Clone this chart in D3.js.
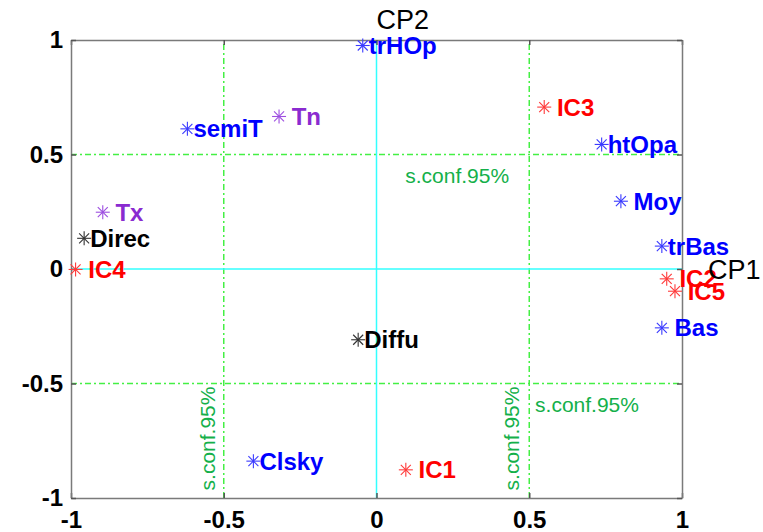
<!DOCTYPE html>
<html>
<head>
<meta charset="utf-8">
<script src="https://cdn.jsdelivr.net/npm/d3@7"></script>
<style>
  html, body { margin: 0; padding: 0; background: #fff; }
  text { font-family: "Liberation Sans", Arial, sans-serif; white-space: pre; }
</style>
</head>
<body>
<svg id="chart" width="763" height="532"></svg>
<script>
// ---- data ----
const labels = ["trHOp", "semiT", " Tn", " IC3", "htOpa", " Moy", "trBas", " IC2", " IC5", " Bas",
                " Tx", "Direc", " IC4", "Diffu", "Clsky", " IC1"];
const cp1 = [-0.045, -0.619, -0.319, 0.549, 0.737, 0.800, 0.934, 0.950, 0.977, 0.934,
             -0.896, -0.957, -0.985, -0.060, -0.403, 0.096];
const cp2 = [0.976, 0.612, 0.666, 0.707, 0.544, 0.296, 0.100, -0.043, -0.097, -0.257,
             0.248, 0.134, -0.002, -0.309, -0.839, -0.877];
const groups = ["var", "var", "temp", "ic", "var", "var", "var", "ic", "ic", "var",
                "temp", "ray", "ic", "ray", "var", "ic"];
const tickValues = [-1, -0.5, 0, 0.5, 1];
const confLevels = [-0.5, 0.5];
const confText = "s.conf.95%";
const axisNames = ["CP1", "CP2"];

(function () {
// ---- styles ----
const textColor = { var: "#0000ff", ic: "#ff0000", temp: "#8a2bd0", ray: "#000000" };
const markColor = { var: "#3a3aff", ic: "#ff3a3a", temp: "#9d4fe0", ray: "#333333" };
const confLine = "#44f044";

const svg = d3.select("#chart");
const mL = 71, mR = 682, mT = 40, mB = 498;
const x = d3.scaleLinear().domain([-1, 1]).range([mL, mR]);
const y = d3.scaleLinear().domain([-1, 1]).range([mB, mT]);

// confidence lines
const g = svg.append("g");
g.selectAll("line.cv").data(confLevels).join("line").attr("class", "cv")
  .attr("x1", d => x(d)).attr("x2", d => x(d))
  .attr("y1", y(-1)).attr("y2", y(1))
  .attr("stroke", confLine).attr("stroke-width", 1.5).attr("stroke-dasharray", "6,3,2,3");
g.selectAll("line.ch").data(confLevels).join("line").attr("class", "ch")
  .attr("y1", d => y(d)).attr("y2", d => y(d))
  .attr("x1", x(-1)).attr("x2", x(1))
  .attr("stroke", confLine).attr("stroke-width", 1.5).attr("stroke-dasharray", "6,3,2,3");

// zero axes (cyan)
svg.append("line").attr("x1", x(0)).attr("x2", x(0)).attr("y1", y(-1)).attr("y2", y(1))
  .attr("stroke", "#33ffff").attr("stroke-width", 1.5);
svg.append("line").attr("x1", x(-1)).attr("x2", x(1)).attr("y1", y(0)).attr("y2", y(0))
  .attr("stroke", "#33ffff").attr("stroke-width", 1.5);

// axes box with inward ticks
function styleAxis(sel) {
  sel.selectAll(".domain").attr("stroke", "#7a7a7a").attr("stroke-width", 1.5);
  sel.selectAll(".tick line").attr("stroke", "#555").attr("stroke-width", 1.5);
  sel.selectAll(".tick text").attr("fill", "#000")
    .style("font-size", "24px").style("font-weight", "bold")
    .style("font-family", "'Liberation Sans', Arial, sans-serif");
}
const fmt = d => String(d);
svg.append("g").attr("transform", `translate(0,${mB})`)
  .call(d3.axisBottom(x).tickValues(tickValues).tickFormat(fmt).tickSizeInner(-5).tickSizeOuter(0).tickPadding(13))
  .call(styleAxis);
svg.append("g").attr("transform", `translate(0,${mT})`)
  .call(d3.axisTop(x).tickValues(tickValues).tickFormat("").tickSizeInner(-5).tickSizeOuter(0))
  .call(styleAxis);
svg.append("g").attr("transform", `translate(${mL},0)`)
  .call(d3.axisLeft(y).tickValues(tickValues).tickFormat(fmt).tickSizeInner(-5).tickSizeOuter(0).tickPadding(8))
  .call(styleAxis);
svg.append("g").attr("transform", `translate(${mR},0)`)
  .call(d3.axisRight(y).tickValues(tickValues).tickFormat("").tickSizeInner(-5).tickSizeOuter(0))
  .call(styleAxis);

// confidence texts
const confColor = "#14b04a";
svg.append("text").attr("x", x(0.094)).attr("y", y(0.5) + 28).text(confText)
  .attr("fill", confColor).style("font-size", "21px");
svg.append("text").attr("x", x(0.519)).attr("y", y(-0.5) + 28).text(confText)
  .attr("fill", confColor).style("font-size", "21px");
[-0.528, 0.465].forEach(v => {
  svg.append("text").attr("transform", `translate(${x(v)},${y(-0.967)}) rotate(-90)`)
    .text(confText).attr("fill", confColor).style("font-size", "21px");
});

// points
const pts = labels.map((l, i) => ({ label: l, px: cp1[i], py: cp2[i], grp: groups[i] }));
const ptG = svg.append("g").selectAll("g").data(pts).join("g")
  .attr("transform", d => `translate(${x(d.px)},${y(d.py)})`);
const r = 7, rd = 5;
const arms = [[-r, 0, r, 0], [0, -r, 0, r], [-rd, -rd, rd, rd], [-rd, rd, rd, -rd]];
ptG.each(function (d) {
  const s = d3.select(this);
  arms.forEach(a => s.append("line").attr("x1", a[0]).attr("y1", a[1]).attr("x2", a[2]).attr("y2", a[3])
    .attr("stroke", markColor[d.grp]).attr("stroke-width", 1.1));
});
ptG.append("text").attr("x", 6).attr("dy", "0.36em").text(d => d.label)
  .attr("fill", d => textColor[d.grp])
  .style("font-size", "24px").style("font-weight", "bold");

// axis names
svg.append("text").attr("x", x(1.085)).attr("y", y(0)).attr("dy", "0.36em").text(axisNames[0])
  .style("font-size", "27px").attr("fill", "#000");
svg.append("text").attr("x", x(0)).attr("y", 29).text(axisNames[1])
  .style("font-size", "27px").attr("fill", "#000");
})();
</script>
</body>
</html>
